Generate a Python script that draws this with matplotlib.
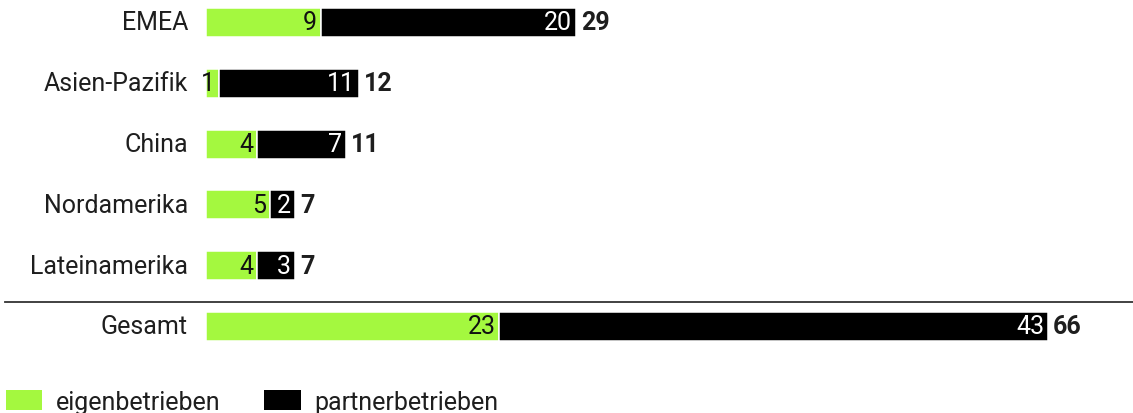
import matplotlib
matplotlib.use("Agg")
import matplotlib.pyplot as plt
from matplotlib.patches import Patch

regions = ["EMEA", "Asien-Pazifik", "China", "Nordamerika", "Lateinamerika", "Gesamt"]
eigen = [9, 1, 4, 5, 4, 23]
partner = [20, 11, 7, 2, 3, 43]
legend_labels = ["eigenbetrieben", "partnerbetrieben"]

GREEN = "#a4f83f"
BLACK = "#000000"
W, H = 1133, 414
plt.rcParams["font.family"] = ["Roboto", "DejaVu Sans"]

fig = plt.figure(figsize=(W / 100, H / 100), dpi=100)
ax = fig.add_axes([0, 0, 1, 1])
ax.set_axis_off()

px = 12.76  # pixels per unit
x0 = 206
ax.set_xlim(-x0 / px, (W - x0) / px)
ax.set_ylim(H, 0)

ys = [23.5 + 60.8 * i for i in range(len(regions))]
bh = 29
fs = 18
TXT = "#1e1e1e"

def off(dx_px):
    return dx_px * 0.72

for y, r, e, p in zip(ys, regions, eigen, partner):
    ax.barh(y, e, left=0, height=bh, color=GREEN, edgecolor="white", linewidth=1.1)
    ax.barh(y, p, left=e, height=bh, color=BLACK, edgecolor="white", linewidth=1.1)
    ax.annotate(r, (0, y), xytext=(off(-18), 0), textcoords="offset points",
                ha="right", va="center", fontsize=fs, color=TXT)
    ax.annotate(str(e), (e, y), xytext=(off(-4), 0), textcoords="offset points",
                ha="right", va="center", fontsize=fs, color="#111111")
    ax.annotate(str(p), (e + p, y), xytext=(off(-4), 0), textcoords="offset points",
                ha="right", va="center", fontsize=fs, color="white")
    ax.annotate(str(e + p), (e + p, y), xytext=(off(5), 0), textcoords="offset points",
                ha="left", va="center", fontsize=fs, color=TXT, fontweight="bold")

ax.axhline(302.5, xmin=5 / W, xmax=1, color="#333333", lw=1.3)

handles = [Patch(facecolor=GREEN), Patch(facecolor=BLACK)]
leg = fig.legend(handles, legend_labels, loc="lower left", bbox_to_anchor=(6 / W, -1 / H),
                 ncol=2, frameon=False, handlelength=1.45, handleheight=0.85,
                 handletextpad=0.55, columnspacing=1.75, borderpad=0, borderaxespad=0,
                 prop={"size": fs})
for t in leg.get_texts():
    t.set_color(TXT)

fig.savefig("out.png", dpi=100)
